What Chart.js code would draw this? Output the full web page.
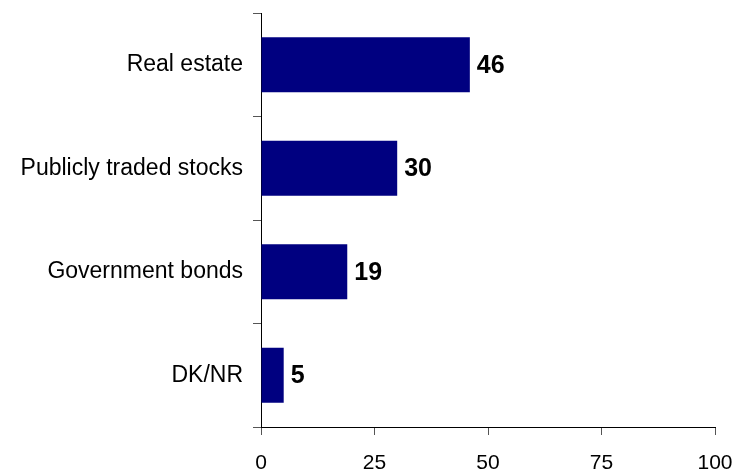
<!DOCTYPE html>
<html>
<head>
<meta charset="utf-8">
<script src="https://cdn.jsdelivr.net/npm/chart.js@4/dist/chart.umd.min.js"></script>
<style>
  html, body { margin: 0; padding: 0; background: #fff; }
  #wrap { width: 737px; height: 471px; }
</style>
</head>
<body>
<div id="wrap"><canvas id="chart" width="737" height="471"></canvas></div>
<script>
const categories = ['Real estate', 'Publicly traded stocks', 'Government bonds', 'DK/NR'];
const shares = [46, 30, 19, 5];
const xTicks = [0, 25, 50, 75, 100];

const FONT = "'Liberation Sans', Arial, sans-serif";

// value labels just past the end of each bar
const barLabels = {
  id: 'barLabels',
  afterDatasetsDraw(chart) {
    const ctx = chart.ctx;
    const meta = chart.getDatasetMeta(0);
    ctx.save();
    ctx.font = 'bold 25px ' + FONT;
    ctx.fillStyle = '#000';
    ctx.textAlign = 'left';
    ctx.textBaseline = 'middle';
    meta.data.forEach((bar, i) => {
      ctx.fillText(String(shares[i]), bar.x + 7, bar.y + 1);
    });
    ctx.restore();
  }
};

new Chart(document.getElementById('chart'), {
  type: 'bar',
  data: {
    labels: categories,
    datasets: [{
      data: shares,
      backgroundColor: '#000080',
      borderWidth: 0,
      categoryPercentage: 1,
      barPercentage: 0.53
    }]
  },
  options: {
    indexAxis: 'y',
    responsive: false,
    animation: false,
    layout: { padding: { top: 13, right: 22, left: 0, bottom: 0 } },
    plugins: {
      legend: { display: false },
      tooltip: { enabled: false }
    },
    scales: {
      x: {
        min: 0,
        max: 100,
        afterBuildTicks(scale) {
          scale.ticks = xTicks.map(v => ({ value: v }));
        },
        afterFit(scale) {
          scale.height = 44;
          scale.paddingLeft = 0;
          scale.paddingRight = 0;
        },
        border: { display: true, color: '#000', width: 1 },
        grid: { drawOnChartArea: false, drawTicks: true, tickLength: 8, color: '#555' },
        ticks: {
          padding: 16,
          color: '#000',
          font: { family: FONT, size: 21 }
        }
      },
      y: {
        afterFit(scale) {
          scale.width = 261;
          scale.paddingTop = 0;
          scale.paddingBottom = 0;
        },
        border: { display: true, color: '#000', width: 1 },
        grid: { drawOnChartArea: false, drawTicks: true, tickLength: 8, offset: true, color: '#555' },
        ticks: {
          padding: 10,
          color: '#000',
          font: { family: FONT, size: 23 }
        }
      }
    }
  },
  plugins: [barLabels]
});
</script>
</body>
</html>
